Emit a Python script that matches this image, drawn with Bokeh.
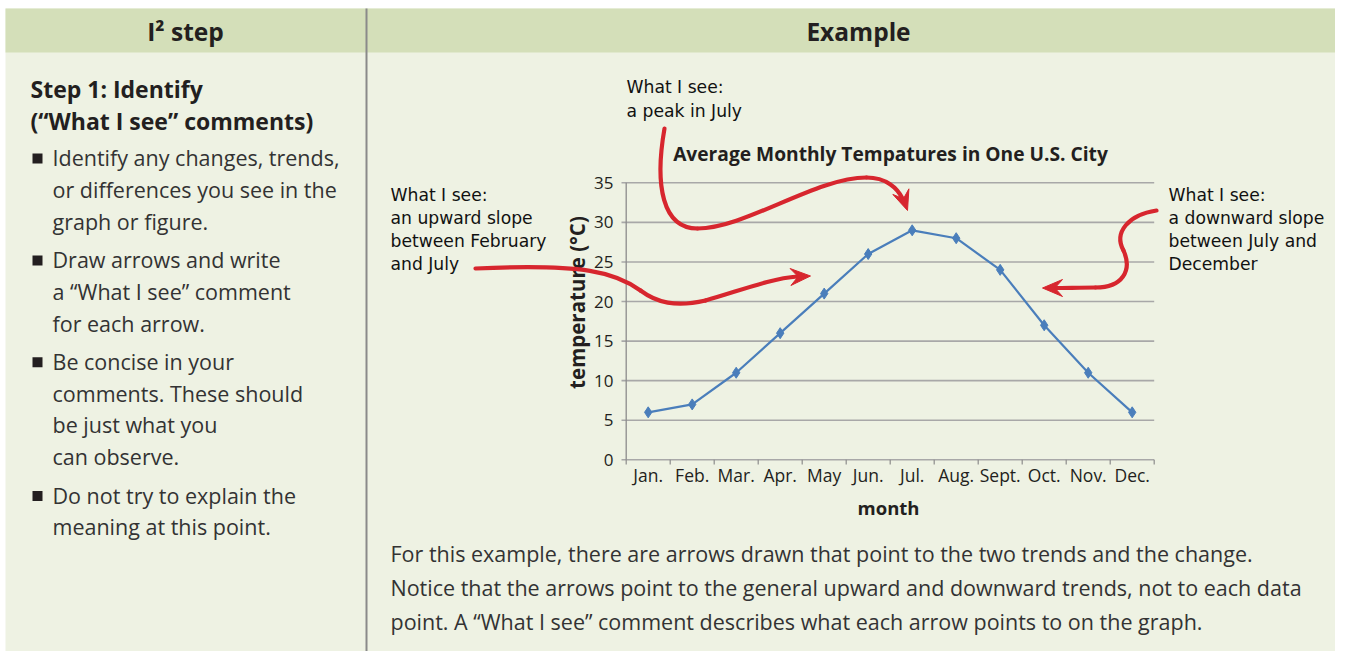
import numpy as np
from bokeh.plotting import figure
from bokeh.models import Range1d
from bokeh.core.properties import value
from bokeh.embed import file_html
from bokeh.resources import INLINE

# ---------------- data ----------------
MONTHS = ["Jan.", "Feb.", "Mar.", "Apr.", "May", "Jun.", "Jul.", "Aug.", "Sept.", "Oct.", "Nov.", "Dec."]
TEMPS = [6, 7, 11, 16, 21, 26, 29, 28, 24, 17, 11, 6]
Y_TICKS = [0, 5, 10, 15, 20, 25, 30, 35]
TITLE = "Average Monthly Tempatures in One U.S. City"
X_LABEL = "month"
Y_LABEL = "temperature (°C)"

LEFT_HEADER = "I² step"
RIGHT_HEADER = "Example"
STEP_TITLE = ["Step 1: Identify", "(“What I see” comments)"]
BULLETS = [
    ["Identify any changes, trends,", "or differences you see in the", "graph or figure."],
    ["Draw arrows and write", "a “What I see” comment", "for each arrow."],
    ["Be concise in your", "comments. These should", "be just what you", "can observe."],
    ["Do not try to explain the", "meaning at this point."],
]
NOTE_PEAK = ["What I see:", "a peak in July"]
NOTE_UP = ["What I see:", "an upward slope", "between February", "and July"]
NOTE_DOWN = ["What I see:", "a downward slope", "between July and", "December"]
PARAGRAPH = [
    "For this example, there are arrows drawn that point to the two trends and the change.",
    "Notice that the arrows point to the general upward and downward trends, not to each data",
    "point. A “What I see” comment describes what each arrow points to on the graph.",
]

# ---------------- geometry (picture pixels) ----------------
W, H = 1335, 651
JAN_FX = 647.7          # x of first month centre
MONTH_W = 44.0
ZERO_FY = 459.3         # y (from top) of 0 degrees
DEG_PX = 7.914


def X(ix):
    return (ix - JAN_FX) / MONTH_W


def Y(iy):
    return (ZERO_FY - iy) / DEG_PX


p = figure(width=W, height=H, output_backend="svg", toolbar_location=None,
           x_range=Range1d(X(0), X(W)), y_range=Range1d(Y(H), Y(0)),
           min_border=0, x_axis_type=None, y_axis_type=None)
p.grid.visible = False
p.outline_line_color = None
p.background_fill_color = "white"
p.border_fill_color = "white"

DARK = "#231f20"
SANS = value("Open Sans")
HAND = value("DejaVu Sans")
RED = "#d7262e"
BLUE = "#4a7ebb"

# table body, header + divider
p.quad(left=[X(5)], right=[X(1400)], top=[Y(8)], bottom=[Y(700)], fill_color="#eef2e3", line_color=None)
p.quad(left=[X(5)], right=[X(1400)], top=[Y(8)], bottom=[Y(52)], fill_color="#d4dfb9", line_color=None)
p.segment(x0=[X(366)], y0=[Y(8)], x1=[X(366)], y1=[Y(700)], line_color="#8a8a8a", line_width=2)


def txt(ix, iy, s, size, font=SANS, bold=False, align="left", color=DARK, angle=0):
    p.text(x=[X(ix)], y=[Y(iy)], text=[s], text_font=font, text_font_size=f"{size}px",
           text_font_style="bold" if bold else "normal", text_align=align,
           text_baseline="middle", text_color=color, angle=angle)


txt(185, 31, LEFT_HEADER, 24.5, bold=True, align="center")
txt(858, 31, RIGHT_HEADER, 24.5, bold=True, align="center")

txt(30, 88, STEP_TITLE[0], 23, bold=True)
txt(30, 120, STEP_TITLE[1], 23, bold=True)

y = 157
for group in BULLETS:
    p.rect(x=[X(37)], y=[Y(y + 1)], width=10, height=10, width_units="screen", height_units="screen",
           fill_color=DARK, line_color=None)
    for line in group:
        txt(52, y, line, 21.5, color="#333333")
        y += 31.8
    y += 6.5

for i, line in enumerate(PARAGRAPH):
    txt(390, 553 + 34 * i, line, 21.5, color="#333333")

# ---------------- chart ----------------
x_idx = np.arange(len(MONTHS))
left_edge, right_edge = -0.5, len(MONTHS) - 0.5
p.segment(x0=[X(621)] * len(Y_TICKS), y0=Y_TICKS, x1=[right_edge] * len(Y_TICKS), y1=Y_TICKS,
          line_color="#a8a8a8", line_width=1.6)
p.segment(x0=[left_edge], y0=[Y_TICKS[0]], x1=[left_edge], y1=[Y_TICKS[-1]], line_color="#8c8c8c", line_width=1.3)
bounds = np.arange(len(MONTHS) + 1) - 0.5
p.segment(x0=bounds, y0=[0] * len(bounds), x1=bounds, y1=[Y(464)] * len(bounds), line_color="#8c8c8c", line_width=1.2)

p.text(x=[X(613)] * len(Y_TICKS), y=Y_TICKS, text=[str(t) for t in Y_TICKS], text_font=SANS,
       text_font_size="17px", text_align="right", text_baseline="middle", text_color=DARK)
p.text(x=x_idx, y=[Y(474)] * len(MONTHS), text=MONTHS, text_font=SANS, text_font_size="17.5px",
       text_align="center", text_baseline="middle", text_color=DARK)

txt(890, 153, TITLE, 19.2, bold=True, align="center")
txt(888, 507, X_LABEL, 18.5, bold=True, align="center")
txt(576, 302, Y_LABEL, 20.5, bold=True, align="center", angle=np.pi / 2)

p.line(x_idx, TEMPS, line_color=BLUE, line_width=2.2)
p.scatter(x_idx, TEMPS, marker="diamond", size=11, fill_color=BLUE, line_color=BLUE)

# ---------------- hand-drawn notes ----------------
for i, line in enumerate(NOTE_PEAK):
    txt(626, 86 + 24 * i, line, 17.2, font=HAND, color="#111111")
for i, line in enumerate(NOTE_UP):
    txt(390, 194 + 23.3 * i, line, 17.2, font=HAND, color="#111111")
for i, line in enumerate(NOTE_DOWN):
    txt(1168, 194 + 23.3 * i, line, 17.2, font=HAND, color="#111111")


def curve(segs):
    for (a, c1, c2, b) in segs:
        p.bezier(x0=[X(a[0])], y0=[Y(a[1])], x1=[X(b[0])], y1=[Y(b[1])],
                 cx0=[X(c1[0])], cy0=[Y(c1[1])], cx1=[X(c2[0])], cy1=[Y(c2[1])],
                 line_color=RED, line_width=4.2, line_cap="round")


def head(tip, d, L=20, Wd=8.5):
    d = np.array(d, float)
    d /= np.linalg.norm(d)
    n = np.array([-d[1], d[0]])
    t = np.array(tip, float)
    pts = [t, t - L * d + Wd * n, t - 0.62 * L * d, t - L * d - Wd * n]
    p.patch([X(q[0]) for q in pts], [Y(q[1]) for q in pts], fill_color=RED, line_color=RED, line_width=1)


# peak arrow
curve([((664, 128), (654, 185), (662, 228), (697, 228)),
       ((697, 228), (745, 228), (815, 177), (866, 177)),
       ((866, 177), (886, 177), (897, 188), (902, 198))])
head((907, 210), (0.35, 1))

# upward arrow
curve([((475, 268), (585, 263), (615, 272), (640, 290)),
       ((640, 290), (656, 302), (675, 307), (705, 300)),
       ((705, 300), (740, 290), (770, 278), (797, 276))])
head((810, 275.5), (1, -0.05))

# downward arrow
curve([((1156, 210), (1128, 214), (1113, 232), (1123, 250)),
       ((1123, 250), (1132, 270), (1122, 287), (1095, 287)),
       ((1095, 287), (1080, 287), (1065, 287.5), (1054, 287.5))])
head((1042, 287.5), (-1, 0))

open("out.html", "w").write(file_html(p, INLINE))
